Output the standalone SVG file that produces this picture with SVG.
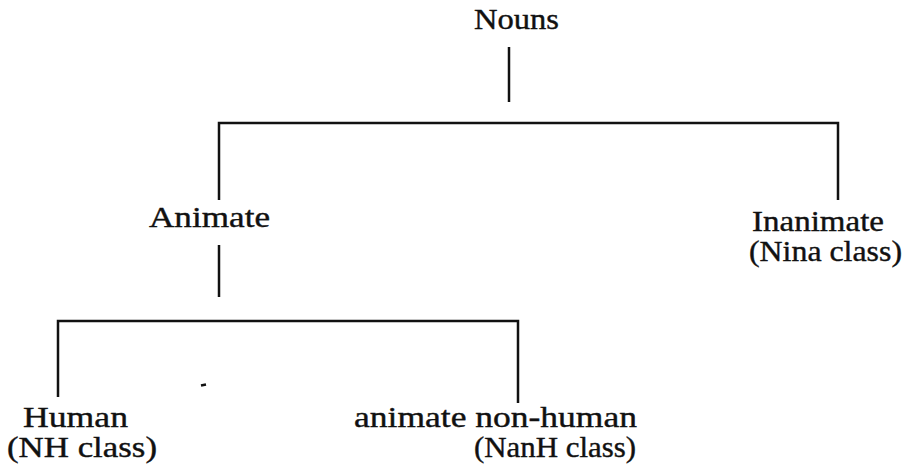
<svg xmlns="http://www.w3.org/2000/svg" width="909" height="469" viewBox="0 0 909 469">
  <style>
    .lbl { font-family: "Liberation Serif", "DejaVu Serif", serif; font-size: 30px; fill: #111; stroke: #111; stroke-width: 0.4; }
    .edge { stroke: #111; stroke-width: 2.5; fill: none; stroke-linecap: butt; }
  </style>
  <rect width="909" height="469" fill="#fff"/>

  <!-- tree connectors -->
  <g id="connectors">
    <line class="edge" x1="509" y1="47" x2="509" y2="102"/>
    <polyline class="edge" points="219,200 219,123 838,123 838,200"/>
    <line class="edge" x1="219" y1="245" x2="219" y2="297"/>
    <polyline class="edge" points="58,397 58,321 518,321 518,403"/>
    <line class="edge" x1="201" y1="385.5" x2="206" y2="384.5" stroke-width="2"/>
  </g>

  <g id="nouns">
    <text class="lbl" x="474" y="29" textLength="85" lengthAdjust="spacingAndGlyphs">Nouns</text>
  </g>
  <g id="animate">
    <text class="lbl" x="149" y="227" textLength="121" lengthAdjust="spacingAndGlyphs">Animate</text>
  </g>
  <g id="inanimate">
    <text class="lbl" x="752" y="231" textLength="132" lengthAdjust="spacingAndGlyphs">Inanimate</text>
    <text class="lbl" x="749" y="261" textLength="153" lengthAdjust="spacingAndGlyphs">(Nina class)</text>
  </g>
  <g id="human">
    <text class="lbl" x="23" y="427" textLength="105" lengthAdjust="spacingAndGlyphs">Human</text>
    <text class="lbl" x="7" y="457" textLength="150" lengthAdjust="spacingAndGlyphs">(NH class)</text>
  </g>
  <g id="nonhuman">
    <text class="lbl" x="354" y="427" textLength="283" lengthAdjust="spacingAndGlyphs">animate non-human</text>
    <text class="lbl" x="474" y="457" textLength="162" lengthAdjust="spacingAndGlyphs">(NanH class)</text>
  </g>
</svg>
